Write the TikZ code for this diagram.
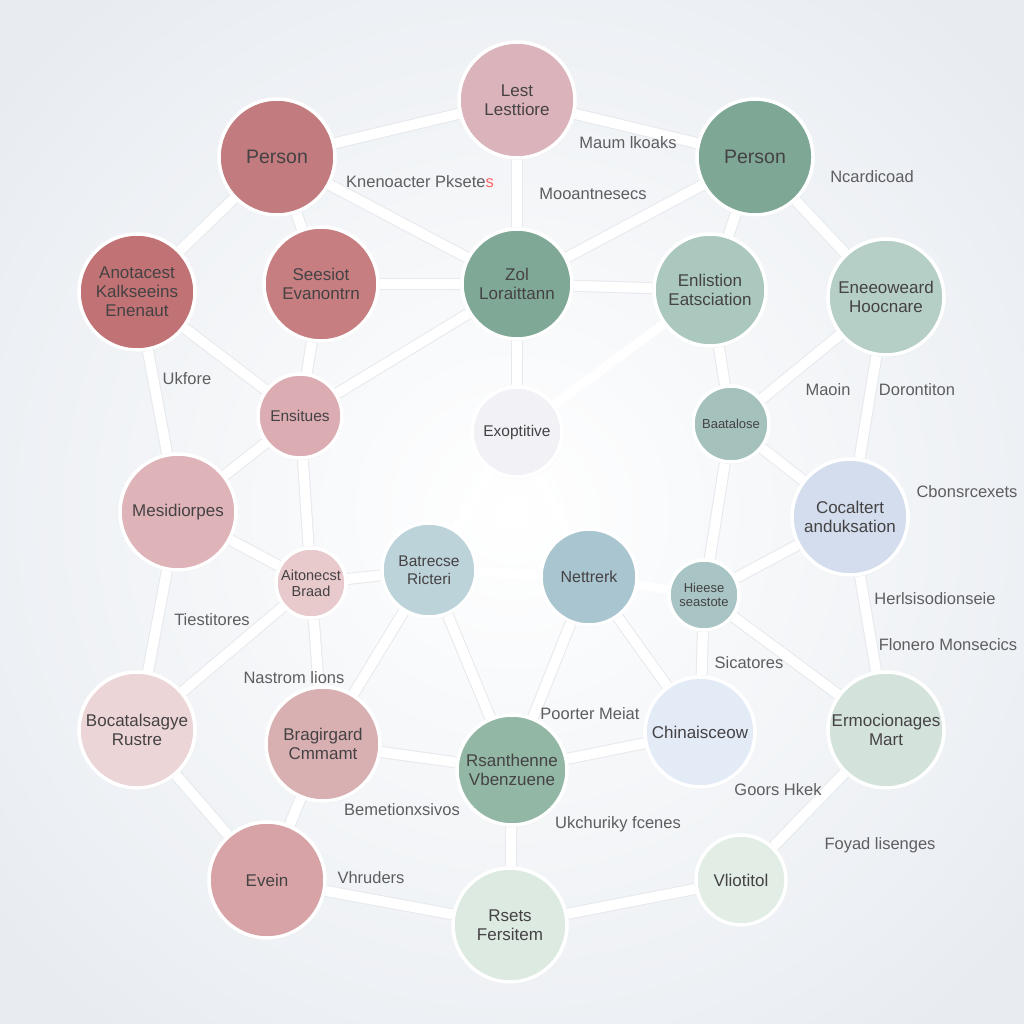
\documentclass[tikz,border=0pt]{standalone}
\usepackage{fontspec}
\setmainfont{Liberation Sans}
\usetikzlibrary{shadows}
\pgfdeclarelayer{bg}
\pgfdeclarelayer{edges}
\pgfsetlayers{bg,edges,main}
\definecolor{cRedA}{HTML}{C27B7E}
\definecolor{cRedB}{HTML}{C07274}
\definecolor{cRedC}{HTML}{C67E81}
\definecolor{cPinkA}{HTML}{DBB3BA}
\definecolor{cPinkB}{HTML}{DBACB2}
\definecolor{cPinkC}{HTML}{DFB4B9}
\definecolor{cPinkD}{HTML}{E8C9CC}
\definecolor{cPinkE}{HTML}{ECD5D7}
\definecolor{cPinkF}{HTML}{D9B0B2}
\definecolor{cPinkG}{HTML}{D8A3A6}
\definecolor{cGrnA}{HTML}{7EA796}
\definecolor{cGrnB}{HTML}{80A897}
\definecolor{cGrnC}{HTML}{AAC8BE}
\definecolor{cGrnD}{HTML}{B6CFC6}
\definecolor{cGrnE}{HTML}{92B7A5}
\definecolor{cGrnF}{HTML}{D3E3DC}
\definecolor{cGrnG}{HTML}{DCEAE1}
\definecolor{cGrnH}{HTML}{E1EDE5}
\definecolor{cBluA}{HTML}{A4C1BC}
\definecolor{cBluB}{HTML}{A8C4C4}
\definecolor{cBluC}{HTML}{A9C5CF}
\definecolor{cBluD}{HTML}{BDD3DA}
\definecolor{cBluE}{HTML}{D3DDED}
\definecolor{cBluF}{HTML}{E3EBF7}
\definecolor{cExo}{HTML}{F1F1F6}
\definecolor{cTxt}{HTML}{454244}
\definecolor{cLbl}{HTML}{5E5E60}
\definecolor{cEdgeSh}{HTML}{E6E9ED}
\definecolor{cBgOut}{HTML}{E8ECF1}
\tikzset{
  ent/.style={circle, draw=white, line width=3.5pt, inner sep=0pt, align=center,
    text=cTxt, font=\fontsize{17}{19}\selectfont,
    drop shadow={opacity=0.1, shadow xshift=0.5pt, shadow yshift=-2pt}},
  lbl/.style={text=cLbl, font=\fontsize{16.5}{19}\selectfont, inner sep=1pt},
  link/.style={draw=white, line width=10pt, preaction={draw=cEdgeSh, line width=12pt}},
  faintlink/.style={draw=white, line width=9pt}
}
\begin{document}
\begin{tikzpicture}[x=1pt,y=-1pt]
\useasboundingbox (0,0) rectangle (1024,1024);
\begin{pgfonlayer}{bg}
\fill[cBgOut] (0,0) rectangle (1024,1024);
\shade[inner color=white, outer color=cBgOut] (-150,-150) rectangle (1174,1174);
\end{pgfonlayer}
% nodes
\node[ent, fill=cPinkA, minimum size=116pt] (lest) at (517,100) {Lest\\Lesttiore};
\node[ent, fill=cRedA, minimum size=116pt, font=\fontsize{19.5}{21}\selectfont] (perL) at (277,157) {Person};
\node[ent, fill=cGrnA, minimum size=116pt, font=\fontsize{19.5}{21}\selectfont] (perR) at (755,157) {Person};
\node[ent, fill=cRedB, minimum size=116pt] (anot) at (137,292) {Anotacest\\Kalkseeins\\Enenaut};
\node[ent, fill=cRedC, minimum size=114pt] (sees) at (321,284) {Seesiot\\Evanontrn};
\node[ent, fill=cGrnB, minimum size=110pt] (zol) at (517,284) {Zol\\Loraittann};
\node[ent, fill=cGrnC, minimum size=112pt] (enli) at (710,290) {Enlistion\\Eatsciation};
\node[ent, fill=cGrnD, minimum size=116pt] (enee) at (886,297) {Eneeoweard\\Hoocnare};
\node[ent, fill=cPinkB, minimum size=84pt, font=\fontsize{15.5}{17}\selectfont] (ensi) at (300,416) {Ensitues};
\node[ent, fill=cExo, minimum size=90pt, font=\fontsize{15.5}{17}\selectfont] (exop) at (517,432) {Exoptitive};
\node[ent, fill=cBluA, minimum size=76pt, font=\fontsize{13}{15}\selectfont] (baat) at (731,424) {Baatalose};
\node[ent, fill=cPinkC, minimum size=116pt] (mesi) at (178,512) {Mesidiorpes};
\node[ent, fill=cBluE, minimum size=116pt] (cbca) at (850,517) {Cocaltert\\anduksation};
\node[ent, fill=cPinkD, minimum size=70pt, font=\fontsize{14.5}{16}\selectfont] (aito) at (311,583) {Aitonecst\\Braad};
\node[ent, fill=cBluD, minimum size=94pt, font=\fontsize{15.5}{18}\selectfont] (batr) at (429,570) {Batrecse\\Ricteri};
\node[ent, fill=cBluC, minimum size=96pt, font=\fontsize{16}{18}\selectfont] (nett) at (589,577) {Nettrerk};
\node[ent, fill=cBluB, minimum size=70pt, font=\fontsize{13}{14.5}\selectfont] (hees) at (704,595) {Hieese\\seastote};
\node[ent, fill=cPinkE, minimum size=116pt] (boce) at (137,730) {Bocatalsagye\\Rustre};
\node[ent, fill=cPinkF, minimum size=114pt] (brag) at (323,744) {Bragirgard\\Cmmamt};
\node[ent, fill=cGrnE, minimum size=110pt] (rsan) at (512,770) {Rsanthenne\\Vbenzuene};
\node[ent, fill=cBluF, minimum size=110pt] (chin) at (700,732) {Chinaisceow};
\node[ent, fill=cGrnF, minimum size=116pt] (ermo) at (886,730) {Ermocionages\\Mart};
\node[ent, fill=cPinkG, minimum size=116pt] (evei) at (267,880) {Evein};
\node[ent, fill=cGrnG, minimum size=114pt] (rset) at (510,925) {Rsets\\Fersitem};
\node[ent, fill=cGrnH, minimum size=90pt] (vlio) at (741,880) {Vliotitol};
% labels
\node[lbl] (l1) at (628,143) {Maum lkoaks};
\node[lbl] (l2) at (420,182) {Knenoacter Pksete\textcolor{red!60}{s}};
\node[lbl] (l3) at (593,194) {Mooantnesecs};
\node[lbl] (l4) at (872,177) {Ncardicoad};
\node[lbl] (l5) at (187,379) {Ukfore};
\node[lbl] (l6) at (828,390) {Maoin};
\node[lbl] (l7) at (917,390) {Dorontiton};
\node[lbl] (l8) at (967,492) {Cbonsrcexets};
\node[lbl] (l9) at (935,599) {Herlsisodionseie};
\node[lbl] (l10) at (948,645) {Flonero Monsecics};
\node[lbl] (l11) at (212,620) {Tiestitores};
\node[lbl] (l12) at (294,678) {Nastrom lions};
\node[lbl] (l13) at (749,663) {Sicatores};
\node[lbl] (l14) at (590,714) {Poorter Meiat};
\node[lbl] (l15) at (778,790) {Goors Hkek};
\node[lbl] (l16) at (402,810) {Bemetionxsivos};
\node[lbl] (l17) at (618,824) {Ukchuriky fcenes};
\node[lbl] (l18) at (880,845) {Foyad lisenges};
\node[lbl] (l19) at (371,878) {Vhruders};
% edges
\begin{pgfonlayer}{edges}
\foreach \a/\b in {lest/perL, lest/perR, lest/zol, perL/anot, perL/zol, perL/sees,
  perR/zol, perR/enee, perR/enli, sees/zol, zol/enli, anot/ensi, anot/mesi,
  sees/ensi, ensi/zol, ensi/mesi, ensi/aito, mesi/aito, mesi/boce, aito/boce,
  aito/batr, aito/brag, zol/exop,
  enli/baat, enee/baat, enee/cbca, baat/cbca, baat/hees, hees/cbca, cbca/ermo,
  hees/ermo, hees/chin, nett/rsan, nett/chin, batr/rsan, batr/brag,
  rsan/chin, brag/rsan, rsan/rset, boce/evei, brag/evei, evei/rset, rset/vlio,
  vlio/ermo}
  \draw[link] (\a) -- (\b);
\foreach \a/\b in {exop/nett, exop/batr, exop/enli, batr/nett, nett/hees}
  \draw[faintlink] (\a) -- (\b);
\end{pgfonlayer}
\end{tikzpicture}
\end{document}
